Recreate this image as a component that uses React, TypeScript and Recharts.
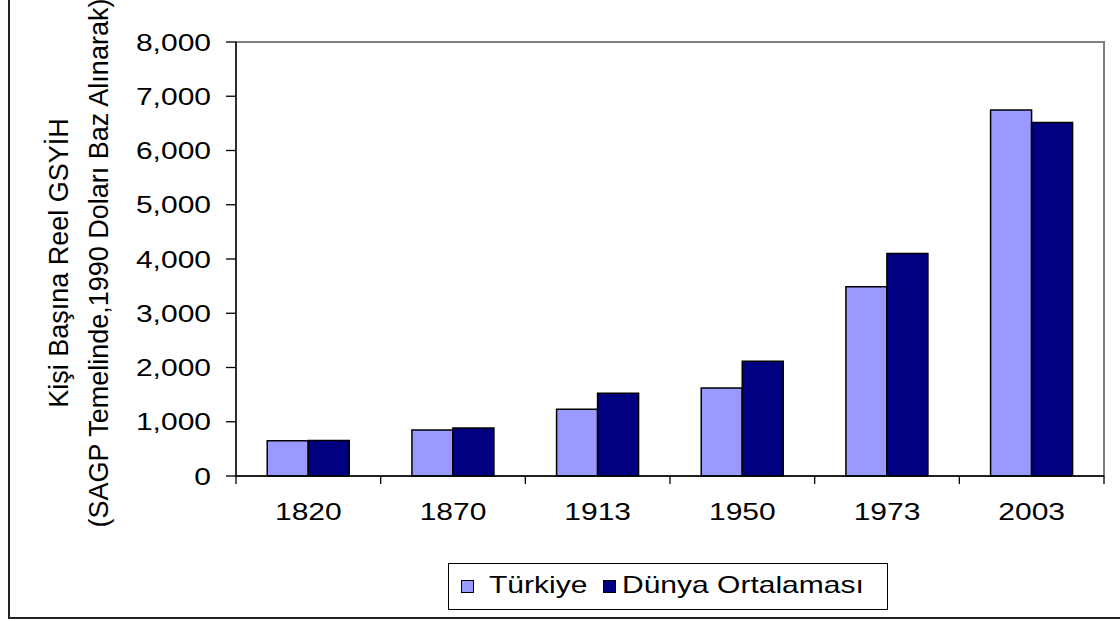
import { BarChart, Bar, XAxis, YAxis, ReferenceArea } from 'recharts';

const years = ['1820', '1870', '1913', '1950', '1973', '2003'];
const turkiye = [650, 848, 1229, 1621, 3489, 6747];
const dunya = [655, 885, 1526, 2113, 4100, 6516];
const yTicks = [0, 1000, 2000, 3000, 4000, 5000, 6000, 7000, 8000];
const seriesNames = ['Türkiye', 'Dünya Ortalaması'];
const seriesColors = ['#9999FF', '#000080'];
const titleLines = ['Kişi Başına Reel GSYİH', '(SAGP Temelinde,1990 Doları Baz Alınarak)'];

const W = 1120;
const H = 621;
const PLOT = { left: 236, top: 42, right: 1104, bottom: 476 };
const band = (PLOT.right - PLOT.left) / years.length;
const FONT = '"Liberation Sans", Arial, sans-serif';
const STRETCH = 1.25;

const data = years.map((year, i) => ({ year, turkiye: turkiye[i], dunya: dunya[i] }));

const fmt = (v: number) => v.toLocaleString('en-US');

function XTick(props: any) {
  const { x, payload } = props;
  const left = x - band / 2;
  const isLast = payload.value === years[years.length - 1];
  return (
    <g>
      <line x1={left} x2={left} y1={PLOT.bottom} y2={PLOT.bottom + 8} stroke="#000" strokeWidth={1.3} />
      {isLast && (
        <line x1={x + band / 2} x2={x + band / 2} y1={PLOT.bottom} y2={PLOT.bottom + 8} stroke="#000" strokeWidth={1.3} />
      )}
      <text
        transform={`translate(${x},${PLOT.bottom + 44}) scale(${STRETCH},1)`}
        textAnchor="middle"
        fontSize={24}
        fontFamily={FONT}
        fill="#000"
      >
        {payload.value}
      </text>
    </g>
  );
}

function YTick(props: any) {
  const { x, y, payload } = props;
  return (
    <text
      transform={`translate(${x},${y}) scale(${STRETCH},1)`}
      textAnchor="end"
      dy="0.36em"
      fontSize={24}
      fontFamily={FONT}
      fill="#000"
    >
      {fmt(payload.value)}
    </text>
  );
}

function YTitle() {
  const cy = 263;
  return (
    <g>
      <text transform={`translate(68,${cy}) rotate(-90)`} textAnchor="middle" fontSize={27} fontFamily={FONT} fill="#000">
        {titleLines[0]}
      </text>
      <text transform={`translate(108,${cy}) rotate(-90)`} textAnchor="middle" fontSize={27} fontFamily={FONT} fill="#000">
        {titleLines[1]}
      </text>
    </g>
  );
}

// legend offsets inside the box
const legendSquareX = [12, 154];
const legendTextX = [40, 173];

function LegendBox() {
  return (
    <div
      style={{
        position: 'absolute',
        left: 448,
        top: 563,
        width: 440,
        height: 47,
        boxSizing: 'border-box',
        border: '1px solid #000',
        background: '#fff',
        fontFamily: FONT,
        fontSize: 24,
      }}
    >
      {seriesNames.map((name, i) => (
        <div key={name}>
          <div
            style={{
              position: 'absolute',
              left: legendSquareX[i],
              top: 16,
              width: 13,
              height: 13,
              boxSizing: 'border-box',
              border: '1.5px solid #000',
              background: seriesColors[i],
            }}
          />
          <span
            style={{
              position: 'absolute',
              left: legendTextX[i],
              top: 7,
              lineHeight: '28px',
              whiteSpace: 'nowrap',
              transform: `scaleX(${STRETCH})`,
              transformOrigin: 'left center',
            }}
          >
            {name}
          </span>
        </div>
      ))}
    </div>
  );
}

export default function App() {
  return (
    <div style={{ position: 'absolute', left: 0, top: 0, width: W, height: H, overflow: 'hidden', background: '#fff' }}>
      <div
        style={{
          position: 'absolute',
          left: 8,
          top: -10,
          width: 1200,
          height: 629,
          boxSizing: 'border-box',
          border: '2px solid #222',
        }}
      />
      <BarChart
        width={W}
        height={H}
        data={data}
        margin={{ top: PLOT.top, right: W - PLOT.right, bottom: H - PLOT.bottom - 40, left: PLOT.left - 116 }}
        barCategoryGap="21.6%"
        barGap={0}
        style={{ position: 'absolute', left: 0, top: 0 }}
      >
        <ReferenceArea y1={0} y2={8000} fill="none" stroke="#808080" strokeWidth={2} />
        <XAxis
          dataKey="year"
          height={40}
          axisLine={{ stroke: '#000', strokeWidth: 1.3 }}
          tickLine={false}
          tick={<XTick />}
          interval={0}
        />
        <YAxis
          width={116}
          domain={[0, 8000]}
          ticks={yTicks}
          interval={0}
          axisLine={{ stroke: '#000', strokeWidth: 1.3 }}
          tickLine={{ stroke: '#000', strokeWidth: 1.3 }}
          tickSize={10}
          tickMargin={15}
          tick={<YTick />}
        />
        <Bar dataKey="turkiye" name={seriesNames[0]} fill={seriesColors[0]} stroke="#000" strokeWidth={1.5} isAnimationActive={false} />
        <Bar dataKey="dunya" name={seriesNames[1]} fill={seriesColors[1]} stroke="#000" strokeWidth={1.5} isAnimationActive={false} />
        <YTitle />
      </BarChart>
      <LegendBox />
    </div>
  );
}
